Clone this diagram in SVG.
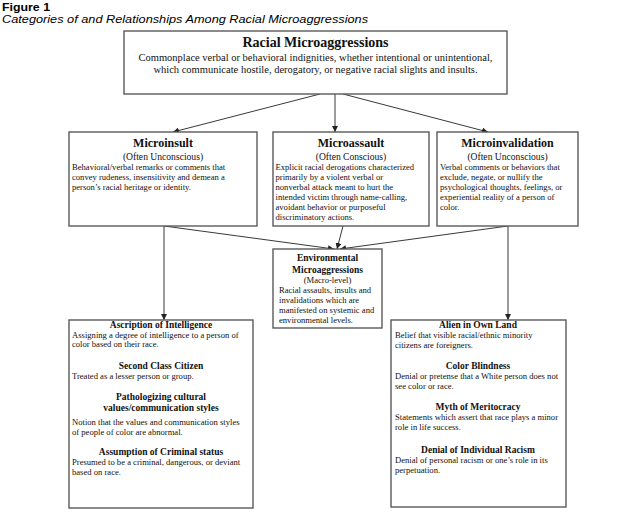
<svg xmlns="http://www.w3.org/2000/svg" width="640" height="515" viewBox="0 0 640 515">
<defs>
<marker id="ah" viewBox="0 0 10 10" refX="10" refY="5" markerWidth="6" markerHeight="6" markerUnits="userSpaceOnUse" orient="auto">
<path d="M0,0 L10,5 L0,10 z" fill="#222"/>
</marker>
<style>
.box{fill:#fff;stroke:#5a5a5a;stroke-width:1.4}
.t{font-family:"Liberation Serif","Times New Roman",serif;fill:#111}
.h1{font-size:14px;font-weight:bold}
.h2{font-size:12px;font-weight:bold}
.h3{font-size:9.5px;font-weight:bold}
.sub{font-size:9.6px}
.b{font-size:8.6px}
.p{font-size:10.5px}
.c{text-anchor:middle}
.con{stroke:#222;stroke-width:0.9;fill:none;marker-end:url(#ah)}
.cap{font-family:"Liberation Sans",Arial,sans-serif;fill:#000}
</style>
</defs>
<rect width="640" height="515" fill="#fff"/>
<text class="cap" x="2" y="10.5" font-size="11.5" font-weight="bold" textLength="48" lengthAdjust="spacingAndGlyphs">Figure 1</text>
<text class="cap" x="2" y="23" font-size="11" font-style="italic" textLength="366" lengthAdjust="spacingAndGlyphs">Categories of and Relationships Among Racial Microaggressions</text>

<g id="connectors">
<line class="con" x1="320" y1="94" x2="173" y2="132"/>
<line class="con" x1="335" y1="94" x2="335" y2="132"/>
<line class="con" x1="343" y1="94" x2="488" y2="132"/>
<line class="con" x1="164" y1="226" x2="334" y2="249"/>
<line class="con" x1="343" y1="226" x2="337" y2="249"/>
<line class="con" x1="508" y1="226" x2="340" y2="249"/>
<line class="con" x1="164" y1="226" x2="164" y2="320"/>
<line class="con" x1="508" y1="226" x2="508" y2="320"/>
</g>

<g id="racial-microaggressions">
<rect class="box" x="124" y="31" width="383" height="63"/>
<text class="t h1 c" x="315.5" y="47">Racial Microaggressions</text>
<text class="t p c" x="315.5" y="61">Commonplace verbal or behavioral indignities, whether intentional or unintentional,</text>
<text class="t p c" x="315.5" y="73">which communicate hostile, derogatory, or negative racial slights and insults.</text>
</g>

<g id="microinsult">
<rect class="box" x="69" y="132" width="188" height="94"/>
<text class="t h2 c" x="163" y="147">Microinsult</text>
<text class="t sub c" x="163" y="160">(Often Unconscious)</text>
<text class="t b" x="72" y="170">Behavioral/verbal remarks or comments that</text>
<text class="t b" x="72" y="180">convey rudeness, insensitivity and demean a</text>
<text class="t b" x="72" y="190">person’s racial heritage or identity.</text>
</g>

<g id="microassault">
<rect class="box" x="273" y="132" width="156" height="94"/>
<text class="t h2 c" x="351" y="147">Microassault</text>
<text class="t sub c" x="351" y="160">(Often Conscious)</text>
<text class="t b" x="275.5" y="170">Explicit racial derogations characterized</text>
<text class="t b" x="275.5" y="180">primarily by a violent verbal or</text>
<text class="t b" x="275.5" y="190">nonverbal attack meant to hurt the</text>
<text class="t b" x="275.5" y="200">intended victim through name-calling,</text>
<text class="t b" x="275.5" y="210">avoidant behavior or purposeful</text>
<text class="t b" x="275.5" y="220">discriminatory actions.</text>
</g>

<g id="microinvalidation">
<rect class="box" x="437" y="132" width="141" height="94"/>
<text class="t h2 c" x="507.5" y="147">Microinvalidation</text>
<text class="t sub c" x="507.5" y="160">(Often Unconscious)</text>
<text class="t b" x="440" y="170">Verbal comments or behaviors that</text>
<text class="t b" x="440" y="180">exclude, negate, or nullify the</text>
<text class="t b" x="440" y="190">psychological thoughts, feelings, or</text>
<text class="t b" x="440" y="200">experiential reality of a person of</text>
<text class="t b" x="440" y="210">color.</text>
</g>

<g id="environmental">
<rect class="box" x="273" y="249" width="109" height="79"/>
<text class="t h3 c" x="327.5" y="261">Environmental</text>
<text class="t h3 c" x="327.5" y="273">Microaggressions</text>
<text class="t b c" x="327.5" y="283">(Macro-level)</text>
<text class="t b" x="279" y="293">Racial assaults, insults and</text>
<text class="t b" x="279" y="303">invalidations which are</text>
<text class="t b" x="279" y="313">manifested on systemic and</text>
<text class="t b" x="279" y="323">environmental levels.</text>
</g>

<g id="microinsult-themes">
<rect class="box" x="69" y="320" width="184" height="188"/>
<text class="t h3 c" x="161" y="328">Ascription of Intelligence</text>
<text class="t b" x="72" y="338"> Assigning a degree of intelligence to a person of</text>
<text class="t b" x="72" y="347">color based on their race.</text>
<text class="t h3 c" x="161" y="369">Second Class Citizen</text>
<text class="t b" x="72" y="379">Treated as a lesser person or group.</text>
<text class="t h3 c" x="161" y="400">Pathologizing cultural</text>
<text class="t h3 c" x="161" y="411">values/communication styles</text>
<text class="t b" x="72" y="425">Notion that the values and communication styles</text>
<text class="t b" x="72" y="435">of people of color are abnormal.</text>
<text class="t h3 c" x="161" y="455">Assumption of Criminal status</text>
<text class="t b" x="72" y="465">Presumed to be a criminal, dangerous, or deviant</text>
<text class="t b" x="72" y="475">based on race.</text>
</g>

<g id="microinvalidation-themes">
<rect class="box" x="391" y="320" width="175" height="187"/>
<text class="t h3 c" x="478" y="328">Alien in Own Land</text>
<text class="t b" x="395" y="338">Belief that visible racial/ethnic minority</text>
<text class="t b" x="395" y="348">citizens are foreigners.</text>
<text class="t h3 c" x="478" y="369">Color Blindness</text>
<text class="t b" x="395" y="379">Denial or pretense that a White person does not</text>
<text class="t b" x="395" y="389">see color or race.</text>
<text class="t h3 c" x="478" y="410">Myth of Meritocracy</text>
<text class="t b" x="395" y="420">Statements which assert that race plays a minor</text>
<text class="t b" x="395" y="430">role in life success.</text>
<text class="t h3 c" x="478" y="453">Denial of Individual Racism</text>
<text class="t b" x="395" y="463">Denial of personal racism or one’s role in its</text>
<text class="t b" x="395" y="473">perpetuation.</text>
</g>
</svg>
